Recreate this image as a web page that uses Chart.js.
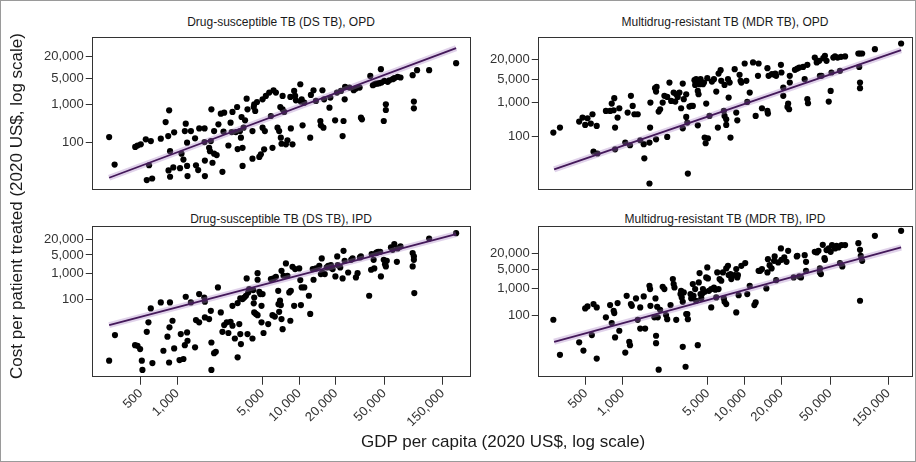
<!DOCTYPE html>
<html><head><meta charset="utf-8">
<script src="https://cdn.jsdelivr.net/npm/chart.js@4.4.1/dist/chart.umd.min.js"></script>
<style>
html,body{margin:0;padding:0;background:#fff;}
#fig{position:relative;width:916px;height:462px;border:1px solid #9a9a9a;box-sizing:border-box;overflow:hidden;font-family:'Liberation Sans',Arial,sans-serif;}
.box{position:absolute;}
.box canvas{display:block;}
.strip{position:absolute;font-size:12px;line-height:14px;color:#1a1a1a;white-space:nowrap;transform:translateX(-50%);}
#titles{position:absolute;left:0;top:0;width:916px;height:462px;pointer-events:none;}
#titles text{font-family:'Liberation Sans',Arial,sans-serif;font-size:17px;fill:#1a1a1a;}
</style></head>
<body>
<div id="fig">
  <div class="strip" style="left:280px;top:14px">Drug-susceptible TB (DS TB), OPD</div>
  <div class="strip" style="left:724px;top:14px">Multidrug-resistant TB (MDR TB), OPD</div>
  <div class="strip" style="left:280px;top:211px">Drug-susceptible TB (DS TB), IPD</div>
  <div class="strip" style="left:724px;top:211px">Multidrug-resistant TB (MDR TB), IPD</div>
  <div class="box" id="pTL" style="left:20px;top:20px;width:460px;height:180px"><canvas></canvas></div>
  <div class="box" id="pTR" style="left:470px;top:20px;width:450px;height:180px"><canvas></canvas></div>
  <div class="box" id="pBL" style="left:20px;top:210px;width:460px;height:230px"><canvas></canvas></div>
  <div class="box" id="pBR" style="left:470px;top:210px;width:450px;height:230px"><canvas></canvas></div>
  <svg id="titles" width="916" height="462" xmlns="http://www.w3.org/2000/svg">
    <text x="0" y="0" text-anchor="middle" dominant-baseline="central" transform="translate(15,205) rotate(-90)">Cost per patient treated (2020 US$, log scale)</text>
    <text x="502" y="440" text-anchor="middle" dominant-baseline="central">GDP per capita (2020 US$, log scale)</text>
  </svg>
</div>
<script>
// ---- data: [GDP per capita, cost per patient treated] ----
const xTicks = [500, 1000, 5000, 10000, 20000, 50000, 150000];
const yTicks = [100, 1000, 5000, 20000];

const dsOpdPoints = [[275,136],[305,25],[450,74],[470,81],[500,87],[550,118],[605,106],[560,9.6],[620,10.6],[585,24],
[730,123],[800,343],[840,145],[855,705],[870,57],[845,17.4],[870,11.8],[925,21],[940,182],
[1050,20],[1080,49],[1120,34],[1170,310],[1150,197],[1200,96],[1200,23],[1210,12.3],[1290,197],[1395,126],[1420,24],[1480,17.8],
[1510,232],[1670,232],[1670,100],[1680,32],[1680,12.3],[1820,70],[1880,106],[1900,750],[1940,28],[1850,57],[2000,197],[2000,49],[2100,45],
[2170,298],[2270,574],[2340,16],[2420,612],[2390,190],[2620,81],[2730,330],[2790,185],[2830,638],[3015,185],[3090,867],
[3120,65],[3260,197],[3320,131],[3360,468],[3425,23],[3425,70],[3490,242],[3590,381],[3700,1450],[3760,751],
[4130,197],[4130,36],[4230,867],[4270,1020],[4350,678],[4500,1180],[4700,40],[4840,47],[5000,1390],[5000,242],[5150,64],[5220,197],[5320,1710],
[5670,2100],[5850,498],[6030,70],[6150,2430],[6430,2100],[6630,242],[6840,197],[6990,867],[7060,131],[7150,90],[7300,1710],[7300,751],[7530,638],[7770,87],[8000,111],
[8450,1610],[8530,232],[8800,87],[9080,2330],[9250,1710],[9390,1310],[10200,3520],[10300,1210],[10470,1390],[10650,280],[11000,1130],
[12300,131],[12460,1820],[13100,2430],[13700,1260],[14900,366],[15050,280],[15500,2430],[15800,242],[16000,1390],
[17700,833],[18000,1545],[19700,381],[20400,2100],[22000,2330],[22700,145],[23100,366],[23600,1390],[23800,2990],[25800,2860],
[28000,2430],[29200,2690],[31300,2860],[32100,449],[32700,405],
[38300,5880],[40200,3310],[41300,3520],[42600,3670],[44000,3670],[45400,3760],[46800,8880],[47300,3910],[49400,366],[49900,4330],[51400,1020],[51400,720],[53200,4070],[54900,4500],[58500,4800],[60300,5110],[64300,5540],[67800,5330],
[85300,6130],[87300,1210],[87300,800],[92700,8340],[116500,8340],[194000,12900]];

const mdrOpdPoints = [[271,127],[307,179],[441,271],[470,357],[494,215],[516,341],[549,236],[567,450],[614,201],[578,34],[623,30],
[730,566],[790,566],[815,940],[845,593],[855,1360],[868,179],[868,40],[910,357],[940,681],
[1052,64],[1100,505],[1150,53],[1170,1600],[1210,800],[1250,450],[1330,450],[1395,75],[1490,57],[1507,21.5],[1660,64],[1690,1010],[1680,179],[1660,3.8],
[1845,2710],[1880,2150],[1900,2970],[1880,80],[1975,541],[2030,635],[2130,1010],[2200,1600],[2320,94],[2420,4010],[2320,1490],[2500,1130],
[2620,2010],[2700,1080],[2750,1790],[2830,1490],[2920,2010],[3015,681],[3110,3740],[3110,171],[3170,1270],[3320,374],[3320,1790],[3390,253],[3425,7.5],[3530,764],[3650,800],[3760,800],
[3880,4710],[3930,3410],[4000,5050],[4080,4010],[4130,2250],[4190,1790],[4130,210],[4270,3570],[4350,5050],[4410,3740],[4550,3570],[4640,4010],[4840,940],[4700,90],[4790,61],[4940,5410],[5000,86],[5150,401],
[5390,4300],[5600,5050],[5850,2150],[6030,179],[6110,7460],[6350,9400],[6430,4500],[6750,566],[6840,401],[6840,3410],[7060,318],[7060,215],[7300,5050],[7390,1420],[7650,90],[7530,4010],
[8280,10070],[8530,505],[8700,297],[9080,6810],[9250,4500],[9390,4010],[10000,14900],[10320,4500],[11000,2010],[10500,1050],[12300,401],[11700,16000],[13000,14900],[12850,6350],
[13850,681],[15350,566],[15350,10800],[15500,471],[15700,6350],[16700,7130],[17600,6810],[17800,7460],[18100,6350],[19800,13600],[20000,8000],[20700,2840],[20700,1600],[22400,746],[23100,635],[22700,940],[23400,4010],[23400,6350],
[25800,9620],[27000,10500],[28000,11300],[30100,11800],[31000,5050],[32600,13600],[32600,1270],[33000,962],[37500,22500],[38900,16000],[39600,17900],[40800,17900],[41300,6350],[42600,6350],[44000,21500],[45400,25300],[46800,17900],[48800,1080],[50600,2250],[51400,8000],[53200,22500],[54900,24200],[57700,22500],[60300,8970],[61500,23600],[66400,24200],
[85300,29700],[88000,29700],[91600,29700],[86700,11800],[88000,4010],[88000,2710],[116500,40100],[191000,59300]];

const dsIpdPoints = [[275,0.49],[307,4.6],[449,1.9],[470,1.8],[494,1.35],[510,0.49],[516,0.22],[560,6.1],[578,13.9],[604,47],[623,0.40],
[730,79],[767,1.17],[828,4.0],[854,0.42],[860,9.0],[868,79],[911,16],[940,1.43],[1040,0.52],[1065,5.0],[1120,0.57],[1150,1.9],[1170,130],[1200,5.8],[1210,2.8],[1290,79],[1395,1.57],[1420,17],[1507,164],[1507,13.9],[1660,122],[1680,84],[1680,21.4],[1820,18.5],[1880,38],[1900,2.4],[1900,0.22],[2000,0.95],[2065,1.07],[2150,293],[2270,33],
[2340,6.1],[2420,11],[2540,13.9],[2620,5.5],[2730,14.7],[2830,59],[2830,10.4],[2960,3.4],[3120,75],[3120,0.66],[3220,12],[3280,112],[3280,5.0],[3320,2.1],[3425,106],[3530,122],[3650,142],[3700,643],[3760,5.0],[3810,190],[3880,254],[4130,3.4],[4190,232],[4230,73],[4270,122],[4270,33],[4410,29],[4550,1020],[4550,573],[4550,26],[4700,201],[4790,164],[4900,59],[4900,13.9],[5000,164],[5090,5.5],[5560,12],[5850,607],[6030,26],[6150,643],[6300,23],[6430,743],
[6720,219],[6760,68],[6840,35],[6950,92],[7060,63],[7150,1250],[7150,18.5],[7300,7.7],[7430,811],[7770,2380],[8000,811],[8280,190],[8450,16],[8530,219],[8800,1780],[9080,59],[9250,1450],[10000,1540],[10200,556],[10320,63],[10470,293],[11000,293],[12000,142],[12300,29],
[12900,1450],[13100,573],[13700,1540],[14600,1940],[15050,937],[15300,3680],[15500,1080],[16200,937],[16800,1680],[17300,1940],[18000,1680],[18200,2060],[18800,1450],[19800,766],[20500,4380],[20700,2060],[21700,1680],[22700,643],[23100,7180],[23600,3000],[25200,1080],[26700,3270],[27400,3680],[29200,702],[30100,1020],[31500,4020],[32100,4380],
[37500,142],[38900,1370],[39300,5370],[40800,3270],[41300,1540],[42600,5860],[43400,6210],[44500,6580],[46200,6580],[46800,766],[49400,3270],[50600,2240],[51400,1830],[52300,3000],[56600,9590],[58500,7830],[60300,12850],[63300,2750],[64300,8790],[67800,10470],[85300,5860],[87300,4380],[87300,3270],[85300,1830],[88000,179],[116500,21000],[194000,33500]];

const mdrIpdPoints = [[271,66.5],[307,3.2],[441,9.4],[478,4.6],[494,177],[516,211],[560,17.7],[578,258],[614,2.3],[614,194],
[730,82],[790,237],[815,50],[845,145],[855,119],[868,14.4],[910,282],[940,25.7],
[1052,3.9],[1080,531],[1134,9.9],[1150,7.4],[1170,258],[1190,223],[1288,422],[1330,66],[1395,194],[1395,31],[1490,501],[1530,31],
[1660,1260],[1680,946],[1690,223],[1822,82],[1860,422],[1880,16.7],[1880,8.8],[1920,205],[1940,82],[1975,0.88],[2030,158],[2130,1160],[2200,946],[2270,100],[2320,70],[2470,237],[2580,2250],
[2620,1460],[2660,1090],[2750,66],[2980,614],[3015,818],[3050,460],[3110,316],[3110,6.4],[3170,709],[3280,1.14],[3320,109],[3390,109],[3425,70],[3600,614],[3650,422],[3760,1460],[3810,531],[3930,946],[4000,345],[4130,7.4],[4210,1690],[4270,3780],[4350,614],[4410,422],[4470,614],[4550,946],[4700,751],[4840,2600],[4940,6180],[5000,2380],[5090,818],[5320,194],[5320,946],
[5600,1090],[5750,900],[5850,460],[5960,4010],[6110,946],[6230,2250],[6430,1950],[6630,4010],[6750,422],[6840,316],[7060,258],[7060,5660],[7300,7130],[7390,3180],[7650,3470],[7770,2250],[8280,3180],[8530,5350],[8800,3180],[8530,126],[8700,2600],[8920,562],[9390,7130],[10100,8990],[10500,614],[11000,1260],[12000,237],[12300,299],[13000,4620],[13400,4620],[13850,5350],
[15050,1000],[15350,4010],[15500,12700],[16000,7550],[16600,5660],[17400,11000],[17600,16000],[18100,2060],[18800,9520],[19800,32000],[20000,12000],[21100,14700],[22000,10090],[22700,26100],[25200,2600],[26700,16000],[27000,16900],[28000,2830],[28900,2600],[31000,17950],[31800,10090],[31800,4620],
[37500,24000],[38900,22600],[40200,26100],[41300,5660],[41300,4010],[42100,3470],[43600,44000],[45000,13840],[45400,12000],[46800,27700],[48800,32000],[50600,24000],[51900,42700],[54900,32000],[56600,40300],[58500,34900],[60300,8990],[62100,42700],[63000,6730],[66400,42700],[85300,50700],[88000,28500],[88000,345],[89300,16900],[91600,11000],[116500,95700],[191000,147500]];

// fitted log-log regression lines (end points)
const dsOpdFit  = [[275,11.1],[194000,32400]];
const mdrOpdFit = [[275,10.1],[191000,37400]];
const dsIpdFit  = [[275,11],[194000,30700]];
const mdrIpdFit = [[275,9.9],[191000,34800]];

// ---- drawing ----
Chart.defaults.font.family = "'Liberation Sans', Arial, sans-serif";
const fmt = v => Number(v).toLocaleString('en-US');
const framePlugin = {
  id: 'frame',
  afterDatasetsDraw(chart) {
    const {ctx, chartArea: a} = chart;
    ctx.save();
    ctx.strokeStyle = '#333';
    ctx.lineWidth = 1;
    ctx.strokeRect(Math.round(a.left) + 0.5, Math.round(a.top) + 0.5,
                   Math.round(a.right - a.left) - 1, Math.round(a.bottom - a.top) - 1);
    ctx.restore();
  }
};
const toXY = arr => arr.map(([x, y]) => ({x, y}));

function makePanel(id, points, fit, xr, yr, showX, target) {
  const wrap = document.getElementById(id);
  const chart = new Chart(wrap.querySelector('canvas'), {
    type: 'scatter',
    data: { datasets: [
      { type: 'line', data: toXY(fit), borderColor: '#44195a', borderWidth: 1.8, pointRadius: 0, fill: false, order: 0 },
      { type: 'line', data: toXY(fit), borderColor: 'rgba(165,125,195,0.35)', borderWidth: 6, pointRadius: 0, fill: false, order: 1 },
      { data: toXY(points), backgroundColor: '#000', borderColor: '#000', borderWidth: 0, pointRadius: 3.1, order: 2 }
    ]},
    options: {
      responsive: true, maintainAspectRatio: false, animation: false,
      layout: { padding: 0, autoPadding: false },
      plugins: { legend: { display: false }, tooltip: { enabled: false } },
      scales: {
        x: {
          type: 'logarithmic', min: xr[0], max: xr[1], display: showX,
          afterBuildTicks: s => { s.ticks = xTicks.map(v => ({value: v})); },
          ticks: { autoSkip: false, maxRotation: 45, minRotation: 45, padding: 1, color: '#333', font: { size: 13 }, callback: fmt },
          grid: { display: true, drawOnChartArea: false, drawTicks: true, tickLength: 8, color: '#333', lineWidth: 1 },
          border: { display: false }
        },
        y: {
          type: 'logarithmic', min: yr[0], max: yr[1],
          afterBuildTicks: s => { s.ticks = yTicks.map(v => ({value: v})); },
          ticks: { autoSkip: false, padding: 2, color: '#333', font: { size: 13 }, callback: fmt },
          grid: { display: true, drawOnChartArea: false, drawTicks: true, tickLength: 6, color: '#333', lineWidth: 1 },
          border: { display: false }
        }
      }
    },
    plugins: [framePlugin]
  });
  for (let k = 0; k < 2; k++) {
    const a = chart.chartArea;
    const W = wrap.clientWidth, H = wrap.clientHeight;
    const lm = a.left, tm = a.top, rm = W - a.right, bm = H - a.bottom;
    wrap.style.left = (target.l - lm) + 'px';
    wrap.style.top = (target.t - tm) + 'px';
    wrap.style.width = (target.r - target.l + lm + rm) + 'px';
    wrap.style.height = (target.b - target.t + tm + bm) + 'px';
    chart.resize();
  }
  return chart;
}

makePanel('pTL', dsOpdPoints,  dsOpdFit,  [198, 257000], [5.16, 65300],  false, {l: 91,  r: 470, t: 36,  b: 189});
makePanel('pTR', mdrOpdPoints, mdrOpdFit, [202, 239000], [2.39, 94000],  false, {l: 537, r: 912, t: 36,  b: 189});
makePanel('pBL', dsIpdPoints,  dsIpdFit,  [198, 257000], [0.121, 63500], true,  {l: 91,  r: 470, t: 225, b: 376});
makePanel('pBR', mdrIpdPoints, mdrIpdFit, [202, 239000], [0.479, 227600], true, {l: 537, r: 912, t: 225, b: 376});
</script>
</body></html>
